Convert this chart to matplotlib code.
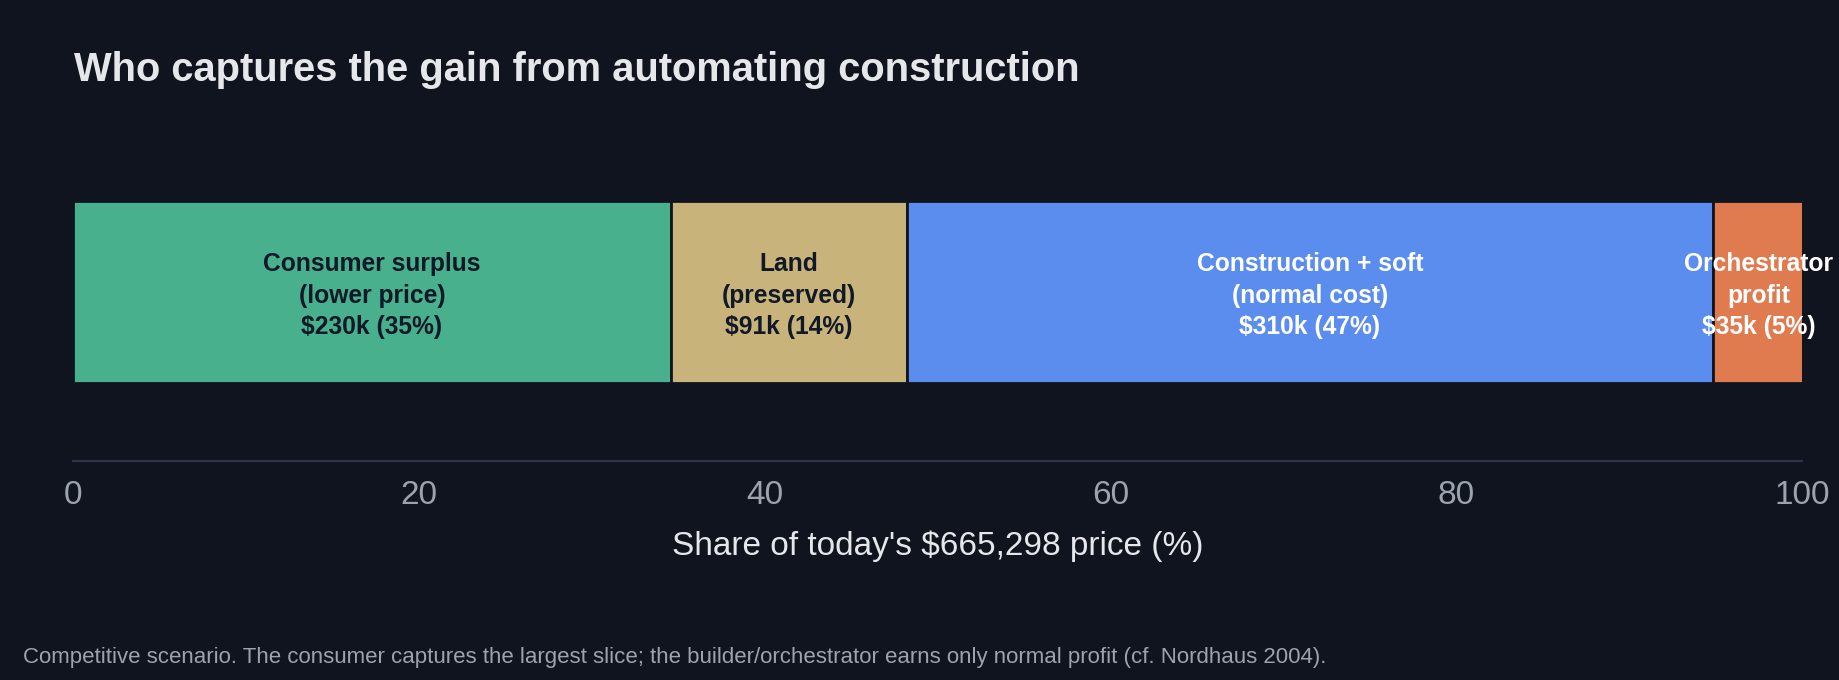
import matplotlib
matplotlib.use("Agg")
import matplotlib.pyplot as plt
import numpy as np

# data
price = 665298
segments = ["Consumer surplus\n(lower price)", "Land\n(preserved)",
            "Construction + soft\n(normal cost)", "Orchestrator\nprofit"]
amounts_k = [230, 91, 310, 35]
colors = ["#48b08c", "#c8b47a", "#5b8def", "#e07b4f"]
text_colors = ["#111827", "#111827", "#ffffff", "#ffffff"]
ticks = [0, 20, 40, 60, 80, 100]

bg = "#10141f"
W, H = 1839, 680

plt.rcParams['font.family'] = ['Liberation Sans', 'DejaVu Sans']
fig = plt.figure(figsize=(W / 100, H / 100), dpi=100, facecolor=bg)
ax = fig.add_axes([73 / W, 219 / H, (1802 - 73) / W, 338 / H])
ax.set_facecolor(bg)

shares = [a * 1000 / price * 100 for a in amounts_k]
left = 0
for name, a, s, c, tc in zip(segments, amounts_k, shares, colors, text_colors):
    ax.barh(0, s, left=left, height=0.54, color=c, edgecolor=bg, linewidth=2)
    label = f"{name}\n${a}k ({s:.0f}%)"
    # slight downward nudge so the block sits where the reference puts it
    ax.text(left + s / 2, -0.011, label, ha="center", va="center", color=tc,
            fontsize=17.7, fontweight="bold", linespacing=1.38, clip_on=False)
    left += s

ax.set_xlim(0, 100)
ax.set_ylim(-0.5, 0.5)
ax.set_yticks([])
ax.set_xticks(ticks)
ax.tick_params(axis="x", length=0, pad=13.5, labelsize=24, labelcolor="#9ca3af")
for sp in ["top", "left", "right"]:
    ax.spines[sp].set_visible(False)
ax.spines["bottom"].set_color("#2e3445")
ax.spines["bottom"].set_linewidth(1.6)
ax.set_xlabel(f"Share of today's ${price:,} price (%)", fontsize=24,
              color="#e5e7eb", labelpad=14.5)

fig.text(74 / W, 1 - 70 / H, "Who captures the gain from automating construction",
         fontsize=28.7, fontweight="bold", color="#e5e7eb", ha="left", va="center")
fig.text(23 / W, 1 - 658 / H,
         "Competitive scenario. The consumer captures the largest slice; the builder/orchestrator "
         "earns only normal profit (cf. Nordhaus 2004).",
         fontsize=16, color="#9ca3af", ha="left", va="center")

plt.savefig("out.png", dpi=100, facecolor=bg)
